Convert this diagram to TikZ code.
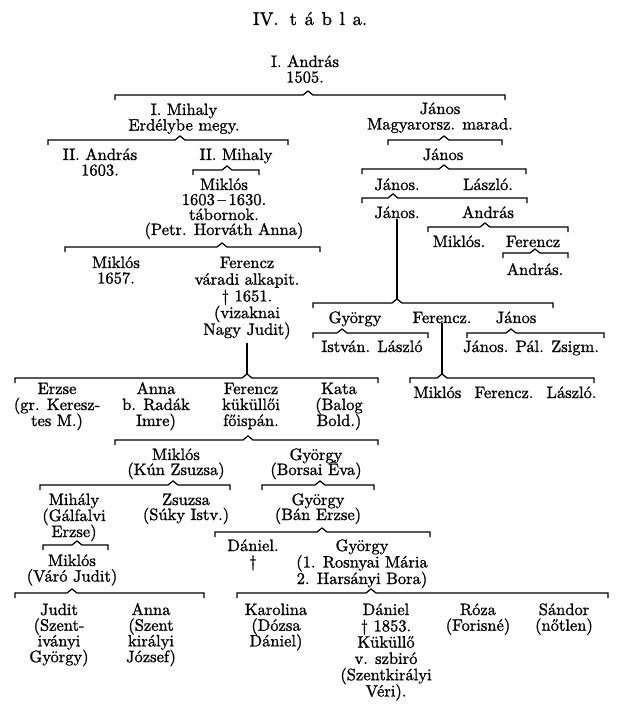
\documentclass[tikz,border=0pt]{standalone}
\usepackage{fontspec}
\setmainfont{lmroman10-regular.otf}[FakeBold=1.2]
\newcommand{\stk}[1]{\vtop{\lineskiplimit=-100pt\lineskip=0pt\halign{\hfil##\hfil\cr#1\crcr}}}
\newcommand{\brc}[5]{%
  \draw[brcline] (#3,#2+5) -- (#3,#2) -- (#4-5,#2) -- (#4,#2-4) -- (#4+5,#2) -- (#5,#2) -- (#5,#2+5);
  \coordinate (#1) at (#4,#2-4);}
\begin{document}
\begin{tikzpicture}[x=1pt,y=-1pt,
  lbl/.style={inner sep=0pt,anchor=base,font=\fontsize{16.5}{15.5}\selectfont},
  ls/.style={font=\fontsize{16.5}{#1}\selectfont},
  brcline/.style={line width=1.2pt,line join=miter},
  vline/.style={line width=1.2pt}]
\fill[white] (0,0) rectangle (623,717);
\useasboundingbox (0,0) rectangle (623,717);

% title
\node[inner sep=0pt,anchor=base,font=\fontsize{18.5}{20}\selectfont] (title) at (310,25)
  {IV.\hspace{0.6em}t\hspace{0.42em}á\hspace{0.42em}b\hspace{0.42em}l\hspace{0.42em}a.};

% generation 1
\node[lbl] (andras1) at (305,67) {\stk{I. András\cr 1505.}};
\brc{b1}{95}{115}{308}{505}

% generation 2
\node[lbl] (mihaly1) at (184,115) {\stk{I. Mihaly\cr Erdélybe megy.}};
\node[lbl] (janos1) at (440,114) {\stk{János\cr Magyarorsz. marad.}};
\brc{b2}{140}{48}{180}{288}
\brc{b3}{140}{388}{444}{502}

% generation 3
\node[lbl] (andras2) at (100,160) {\stk{II. András\cr 1603.}};
\node[lbl] (mihaly2) at (236,160) {II. Mihaly};
\node[lbl] (janos2) at (443,160) {János};
\brc{b4}{170}{193}{227}{259}
\brc{b5}{169}{362}{444}{526}

% generation 4
\node[lbl,ls=15] (miklos1) at (224,190) {\stk{Miklós\cr 1603\,--\,1630.\cr tábornok.\cr (Petr. Horváth Anna)}};
\node[lbl] (janos3) at (397,190) {János.};
\node[lbl] (laszlo1) at (488,190) {László.};
\brc{b6}{198}{362}{393}{527}
\node[lbl] (janos4) at (397,218) {János.};
\node[lbl] (andras3) at (488,218) {András};
\brc{b8}{227}{428}{485}{568}
\node[lbl] (miklos2) at (459,247) {Miklós.};
\node[lbl] (ferencz1) at (533,247) {Ferencz};
\brc{b9}{253}{503}{535}{568}
\node[lbl] (andras4) at (535,275) {András.};

\brc{b10}{247}{65}{222}{320}
\node[lbl] (miklos3) at (116,268) {\stk{Miklós\cr 1657.}};
\node[lbl,ls=16.7] (ferencz2) at (247,268) {\stk{Ferencz\cr váradi alkapit.\cr \textdagger\ 1651.\cr (vizaknai\cr Nagy Judit)}};

% János. line
\brc{b7}{303}{313}{397}{553}
\draw[vline] (janos4.south) -- (b7);
\node[lbl] (gyorgy1) at (355,323) {György};
\node[lbl] (ferencz3) at (442,323) {Ferencz.};
\node[lbl] (janos5) at (516,323) {János};
\brc{b11}{333}{313}{342}{428}
\brc{b12}{333}{467}{511}{604}
\node[lbl] (istvan) at (372,352) {István. László};
\node[lbl] (janospal) at (531,352) {János. Pál. Zsigm.};
\brc{b13}{378}{410}{442}{594}
\draw[vline] (ferencz3.south) -- (b13);
\node[lbl] (mfl) at (505,398) {Miklós\hspace{0.8em}Ferencz.\hspace{0.8em}László.};

% Ferencz (vizaknai Nagy Judit) line
\brc{b14}{378}{15}{247}{378}
\draw[vline] ([yshift=-4pt]ferencz2.south) -- (b14);
\node[lbl,ls=16] (erzse1) at (57,394) {\stk{Erzse\cr (gr. Keresz-\cr tes M.)}};
\node[lbl,ls=16] (anna1) at (156,394) {\stk{Anna\cr b. Radák\cr Imre)}};
\node[lbl,ls=16] (ferencz4) at (251,394) {\stk{Ferencz\cr küküllői\cr főispán.}};
\node[lbl,ls=16] (kata) at (339,394) {\stk{Kata\cr (Balog\cr Bold.)}};
\brc{b15}{440}{115}{248}{378}

\node[lbl,ls=15] (miklos4) at (176,460) {\stk{Miklós\cr (Kún Zsuzsa)}};
\node[lbl,ls=15] (gyorgy2) at (316,460) {\stk{György\cr (Borsai Éva)}};
\brc{b16}{485}{40}{173}{230}
\brc{b17}{485}{262}{320}{374}

\node[lbl,ls=16] (mihaly3) at (74,505) {\stk{Mihály\cr (Gálfalvi\cr Erzse)}};
\node[lbl,ls=15] (zsuzsa) at (186,505) {\stk{Zsuzsa\cr (Súky Istv.)}};
\node[lbl,ls=15] (gyorgy3) at (318,505) {\stk{György\cr (Bán Erzse)}};
\brc{b18}{545}{43}{77}{108}
\brc{b19}{532}{215}{322}{430}

\node[lbl,ls=15.5] (miklos5) at (72,566) {\stk{Miklós\cr (Váró Judit)}};
\node[lbl,ls=16] (daniel1) at (253,551) {\stk{Dániel.\cr \textdagger}};
\node[lbl,ls=16.5] (gyorgy4) at (362,551) {\stk{György\cr (1. Rosnyai Mária\cr 2. Harsányi Bora)}};
\brc{b20}{593}{15}{72}{204}
\brc{b21}{593}{237}{371}{608}

% last generation
\node[lbl,ls=15.7] (judit) at (59,615) {\stk{Judit\cr (Szent-\cr iványi\cr György)}};
\node[lbl,ls=15.7] (anna2) at (151,615) {\stk{Anna\cr (Szent\cr királyi\cr József)}};
\node[lbl,ls=15.7] (karolina) at (276,615) {\stk{Karolina\cr (Dózsa\cr Dániel)}};
\node[lbl,ls=16.3] (daniel2) at (386,615) {\stk{Dániel\cr \textdagger\ 1853.\cr Küküllő\cr v. szbiró\cr (Szentkirályi\cr Véri).}};
\node[lbl,ls=15.7] (roza) at (478,615) {\stk{Róza\cr (Forisné)}};
\node[lbl,ls=15.7] (sandor) at (564,615) {\stk{Sándor\cr (nőtlen)}};
\end{tikzpicture}
\end{document}
